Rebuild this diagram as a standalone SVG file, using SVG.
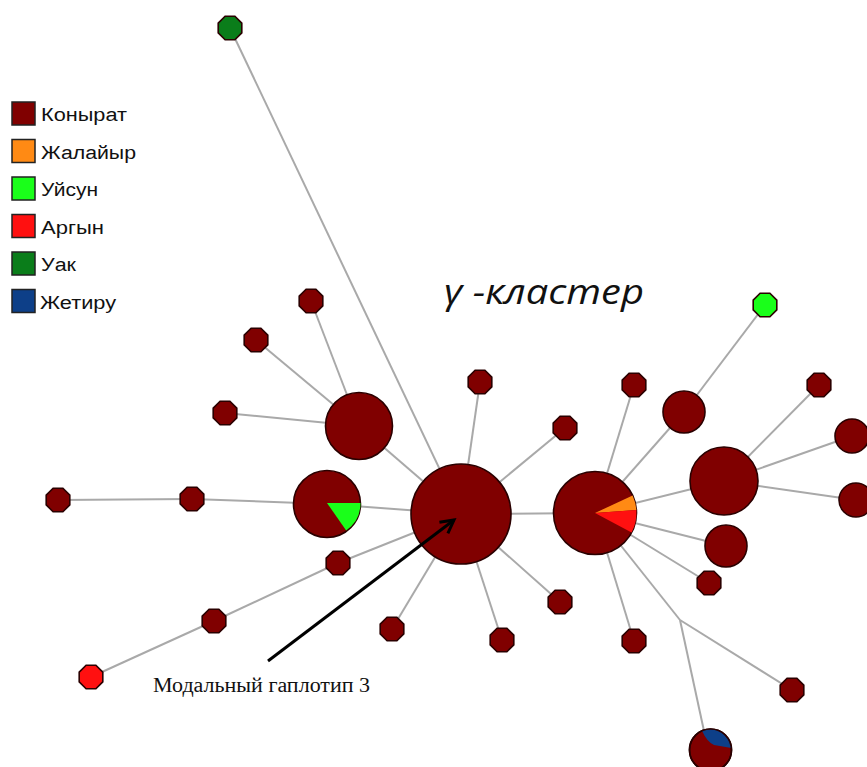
<svg xmlns="http://www.w3.org/2000/svg" xmlns:xlink="http://www.w3.org/1999/xlink" width="867" height="767" viewBox="0 0 867 767">
  <style>
    .edge { stroke: #a9a9a9; stroke-width: 2; fill: none; }
    .n { fill: #800000; stroke: #2a0000; stroke-width: 1.6; }
    .uak { fill: #0a7d1a; }
    .uisun { fill: #1aff1a; }
    .argyn { fill: #ff1010; }
    .zhal { fill: #ff8a14; }
    .zhet { fill: #0d3f88; }
    .slice { stroke: none; }
    .key { stroke: #222; stroke-width: 1.5; }
    .lbl { font-family: "Liberation Sans", Arial, sans-serif; font-size: 18px; fill: #111; }
    .title { font-family: "Open Sans", "DejaVu Sans", sans-serif; font-style: italic; font-size: 34px; fill: #111; }
    .note { font-family: "Liberation Serif", "Times New Roman", serif; font-size: 20px; fill: #111; }
  </style>
  <defs>
    <!-- octagon used for single-sample haplotypes -->
    <polygon id="oct" points="11.8,4.9 4.9,11.8 -4.9,11.8 -11.8,4.9 -11.8,-4.9 -4.9,-11.8 4.9,-11.8 11.8,-4.9"/>
    <marker id="arrowhead" markerUnits="userSpaceOnUse" markerWidth="18" markerHeight="18" refX="14" refY="7" orient="auto" overflow="visible">
      <path d="M1,0 L14,7 L1,14" fill="none" stroke="#000" stroke-width="3" stroke-linejoin="miter"/>
    </marker>
  </defs>
  <rect width="867" height="767" fill="#fff"/>

  <!-- legend -->
  <g id="legend">
    <rect class="key" x="12" y="102" width="23" height="23" fill="#800000"/>
    <text class="lbl" x="41" y="121" textLength="86" lengthAdjust="spacingAndGlyphs">Конырат</text>
    <rect class="key" x="12" y="139.5" width="23" height="23" fill="#ff8a14"/>
    <text class="lbl" x="41" y="158.5" textLength="95" lengthAdjust="spacingAndGlyphs">Жалайыр</text>
    <rect class="key" x="12" y="177" width="23" height="23" fill="#1aff1a"/>
    <text class="lbl" x="41" y="196" textLength="57" lengthAdjust="spacingAndGlyphs">Уйсун</text>
    <rect class="key" x="12" y="214.5" width="23" height="23" fill="#ff1010"/>
    <text class="lbl" x="41" y="233.5" textLength="63" lengthAdjust="spacingAndGlyphs">Аргын</text>
    <rect class="key" x="12" y="252" width="23" height="23" fill="#0a7d1a"/>
    <text class="lbl" x="41" y="271" textLength="35" lengthAdjust="spacingAndGlyphs">Уак</text>
    <rect class="key" x="12" y="289.5" width="23" height="23" fill="#0d3f88"/>
    <text class="lbl" x="40" y="308.5" textLength="76" lengthAdjust="spacingAndGlyphs">Жетиру</text>
  </g>

  <text class="title" x="444" y="304" textLength="200" lengthAdjust="spacingAndGlyphs">γ -кластер</text>

  <!-- network edges -->
  <g id="connectors">
    <line class="edge" x1="461" y1="514" x2="230" y2="28"/>
    <line class="edge" x1="461" y1="514" x2="359" y2="426"/>
    <line class="edge" x1="461" y1="514" x2="327" y2="504"/>
    <line class="edge" x1="461" y1="514" x2="595" y2="513"/>
    <line class="edge" x1="461" y1="514" x2="480" y2="382"/>
    <line class="edge" x1="461" y1="514" x2="565" y2="428"/>
    <line class="edge" x1="461" y1="514" x2="338" y2="563"/>
    <line class="edge" x1="461" y1="514" x2="392" y2="629"/>
    <line class="edge" x1="461" y1="514" x2="502" y2="640"/>
    <line class="edge" x1="461" y1="514" x2="560" y2="602"/>
    <line class="edge" x1="359" y1="426" x2="311" y2="301"/>
    <line class="edge" x1="359" y1="426" x2="256" y2="340"/>
    <line class="edge" x1="359" y1="426" x2="225" y2="413"/>
    <line class="edge" x1="327" y1="504" x2="192" y2="499"/>
    <line class="edge" x1="192" y1="499" x2="58" y2="500"/>
    <line class="edge" x1="338" y1="563" x2="214" y2="621"/>
    <line class="edge" x1="214" y1="621" x2="91" y2="677"/>
    <line class="edge" x1="595" y1="513" x2="634" y2="385"/>
    <line class="edge" x1="595" y1="513" x2="684" y2="412"/>
    <line class="edge" x1="684" y1="412" x2="765" y2="305"/>
    <line class="edge" x1="595" y1="513" x2="724" y2="481"/>
    <line class="edge" x1="724" y1="481" x2="819" y2="385"/>
    <line class="edge" x1="724" y1="481" x2="852" y2="436"/>
    <line class="edge" x1="724" y1="481" x2="856" y2="500"/>
    <line class="edge" x1="595" y1="513" x2="726" y2="546"/>
    <line class="edge" x1="595" y1="513" x2="709" y2="583"/>
    <line class="edge" x1="595" y1="513" x2="634" y2="641"/>
    <line class="edge" x1="595" y1="513" x2="680" y2="620"/>
    <line class="edge" x1="680" y1="620" x2="792" y2="690"/>
    <line class="edge" x1="680" y1="620" x2="704" y2="731"/>
  </g>

  <!-- haplotype nodes -->
  <g id="n-uak"><use href="#oct" class="n uak" x="230" y="28"/></g>
  <g id="n-a1"><use href="#oct" class="n" x="311" y="301"/></g>
  <g id="n-a2"><use href="#oct" class="n" x="256" y="340"/></g>
  <g id="n-a3"><use href="#oct" class="n" x="225" y="413"/></g>
  <g id="n-b1"><use href="#oct" class="n" x="58" y="500"/></g>
  <g id="n-b2"><use href="#oct" class="n" x="192" y="499"/></g>
  <g id="n-c1"><use href="#oct" class="n" x="338" y="563"/></g>
  <g id="n-c2"><use href="#oct" class="n" x="214" y="621"/></g>
  <g id="n-argyn"><use href="#oct" class="n argyn" x="91" y="677"/></g>
  <g id="n-m1"><use href="#oct" class="n" x="392" y="629"/></g>
  <g id="n-m2"><use href="#oct" class="n" x="480" y="382"/></g>
  <g id="n-m3"><use href="#oct" class="n" x="565" y="428"/></g>
  <g id="n-m4"><use href="#oct" class="n" x="502" y="640"/></g>
  <g id="n-m5"><use href="#oct" class="n" x="560" y="602"/></g>
  <g id="n-r1"><use href="#oct" class="n" x="634" y="385"/></g>
  <g id="n-uisun"><use href="#oct" class="n uisun" x="765" y="305"/></g>
  <g id="n-r2"><use href="#oct" class="n" x="819" y="385"/></g>
  <g id="n-r3"><use href="#oct" class="n" x="709" y="583"/></g>
  <g id="n-r4"><use href="#oct" class="n" x="634" y="641"/></g>
  <g id="n-r5"><use href="#oct" class="n" x="792" y="690"/></g>

  <g id="n-d"><circle class="n" cx="684" cy="412" r="21"/></g>
  <g id="n-e1"><circle class="n" cx="852" cy="436" r="17"/></g>
  <g id="n-e2"><circle class="n" cx="856" cy="500" r="17"/></g>
  <g id="n-f"><circle class="n" cx="726" cy="546" r="21"/></g>
  <g id="n-e"><circle class="n" cx="724" cy="481" r="34"/></g>
  <g id="n-c"><circle class="n" cx="359" cy="426" r="33.5"/></g>

  <g id="n-b">
    <circle class="n" cx="327" cy="504" r="33.5"/>
    <path class="slice uisun" d="M327,503 L360.5,503 A33.5,33.5 0 0 1 346.2,530.4 Z"/>
  </g>

  <g id="n-modal"><circle class="n" cx="461" cy="514" r="50"/></g>

  <g id="n-a">
    <circle class="n" cx="595" cy="513" r="41.5"/>
    <path class="slice zhal" d="M595,513 L632.6,495.5 A41.5,41.5 0 0 1 636.4,510.1 Z"/>
    <path class="slice argyn" d="M595,513 L636.4,510.1 A41.5,41.5 0 0 1 631.6,532.5 Z"/>
  </g>

  <g id="n-zhetiru">
    <circle class="n" cx="710.5" cy="750" r="21"/>
    <path class="slice zhet" d="M702,730.8 Q707,742 714,745 L731.4,748 A21,21 0 0 0 702,730.8 Z"/>
    <circle cx="710.5" cy="750" r="21" fill="none" stroke="#2a0000" stroke-width="1.6"/>
  </g>

  <!-- annotation arrow -->
  <g id="annotation">
    <line x1="268" y1="661" x2="454" y2="520" stroke="#000" stroke-width="3" marker-end="url(#arrowhead)"/>
    <text class="note" x="153" y="692" textLength="217" lengthAdjust="spacingAndGlyphs">Модальный гаплотип 3</text>
  </g>
</svg>
